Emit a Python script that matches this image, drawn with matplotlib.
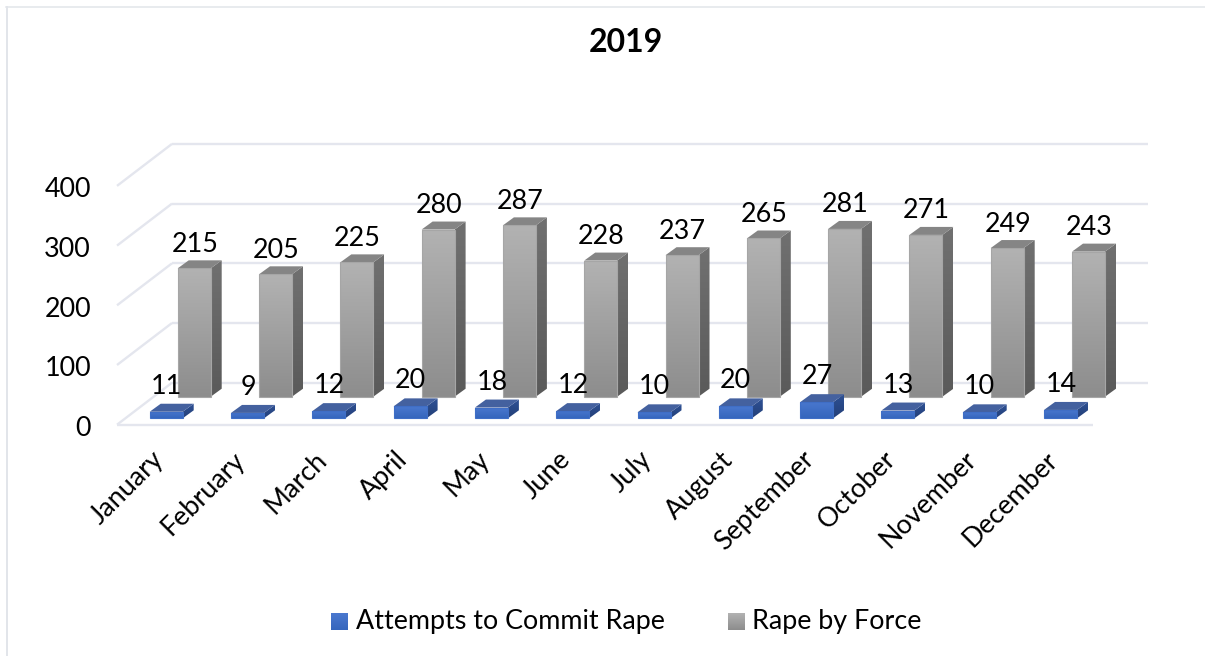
import numpy as np
import matplotlib
matplotlib.use("Agg")
import matplotlib.pyplot as plt
from matplotlib.patches import Polygon
from matplotlib.colors import LinearSegmentedColormap

months = ["January", "February", "March", "April", "May", "June", "July",
          "August", "September", "October", "November", "December"]
attempts = [11, 9, 12, 20, 18, 12, 10, 20, 27, 13, 10, 14]
force = [215, 205, 225, 280, 287, 228, 237, 265, 281, 271, 249, 243]
y_ticks = [0, 100, 200, 300, 400]
series_names = ["Attempts to Commit Rape", "Rape by Force"]
title = "2019"

W, H = 1205, 656
plt.rcParams["font.family"] = ["Lato", "DejaVu Sans"]
fig = plt.figure(figsize=(W / 100, H / 100), dpi=100, facecolor="white")
ax = fig.add_axes([0, 0, 1, 1])

# scale: one category = 81.3 px, one value unit = 0.597 px
PX = 81.3
PY = 0.597
x0_px, y0_px = 166.2, 424.7
ax.set_xlim(-x0_px / PX, (W - x0_px) / PX)
ax.set_ylim(-(H - y0_px) / PY, y0_px / PY)
ax.axis("off")

dx = lambda p: p / PX
dy = lambda p: p / PY

BAR_W = dx(33)
DEPTH_X, DEPTH_Y = dx(11), dy(8)
GRID = "#e4e6ee"

# walls / floor gridlines
left_x = dx(117 - x0_px)
right_front = dx(1093 - x0_px)
back_x0, back_x1 = dx(172 - x0_px), dx(1148 - x0_px)
back_dy = dy(42)
for t in y_ticks:
    ax.plot([left_x, back_x0], [t, t + back_dy], color=GRID, lw=1.7, zorder=1, solid_capstyle="butt")
    ax.plot([back_x0, back_x1], [t + back_dy, t + back_dy], color=GRID, lw=1.7, zorder=1, solid_capstyle="butt")
ax.plot([left_x, right_front], [0, 0], color=GRID, lw=1.7, zorder=1, solid_capstyle="butt")


def grad_fill(poly, c_top, c_bot, z):
    """Fill a polygon with a vertical gradient."""
    pts = np.array(poly)
    cmap = LinearSegmentedColormap.from_list("g", [c_top, c_bot])
    ext = (pts[:, 0].min(), pts[:, 0].max(), pts[:, 1].min(), pts[:, 1].max())
    im = ax.imshow(np.linspace(0, 1, 64).reshape(-1, 1), cmap=cmap, extent=ext,
                   aspect="auto", origin="upper", zorder=z, interpolation="bilinear")
    patch = Polygon(pts, closed=True, transform=ax.transData, fc="none", ec="none")
    ax.add_patch(patch)
    im.set_clip_path(patch)


def draw_series(values, x_off, base, front, side, top, edge, z):
    lefts = np.arange(len(values)) + x_off
    bars = ax.bar(lefts, values, width=BAR_W, bottom=base, align="edge",
                  color="none", edgecolor=edge, linewidth=0.8, zorder=z + 0.5)
    for b, v in zip(bars, values):
        l, r = b.get_x(), b.get_x() + b.get_width()
        t, u = base + v, base
        grad_fill([(l, t), (r, t), (r, u), (l, u)], front[0], front[1], z)
        grad_fill([(r, t), (r + DEPTH_X, t + DEPTH_Y), (r + DEPTH_X, u + DEPTH_Y), (r, u)],
                  side[0], side[1], z)
        ax.add_patch(Polygon([(l, t), (r, t), (r + DEPTH_X, t + DEPTH_Y), (l + DEPTH_X, t + DEPTH_Y)],
                             closed=True, fc=top, ec="none", zorder=z))


base_blue = dy(6.4)
base_gray = dy(28)
off_blue = dx(149.7 - x0_px)
off_gray = dx(177.7 - x0_px)
GRAY_F = ("#b2b2b2", "#8d8d8d")
GRAY_S = ("#707070", "#5a5a5a")
BLUE_F = ("#4a78cf", "#3566bd")
BLUE_S = ("#2f5296", "#233f78")

# gray row lies behind, blue row in front
draw_series(force, off_gray, base_gray, GRAY_F, GRAY_S, "#858585", "#a6a6a6", 2)
draw_series(attempts, off_blue, base_blue, BLUE_F, BLUE_S, "#44619f", "#3f6ec6", 4)

# data labels
FS = 19.4
for i, v in enumerate(force):
    ax.text(i + off_gray + BAR_W / 2 + dx(0.5), base_gray + v + dy(24), str(v), ha="center", va="center",
            fontsize=FS, color="black", zorder=6)
for i, v in enumerate(attempts):
    ax.text(i + off_blue + BAR_W / 2 + dx(0.5), base_blue + v + dy(25.5), str(v), ha="center", va="center",
            fontsize=FS, color="black", zorder=6)

# y tick labels
for t in y_ticks:
    ax.text(dx(91 - x0_px), t - dy(4), str(t), ha="right", va="center", fontsize=FS, color="black")

# category labels
for i, m in enumerate(months):
    ax.text(i - dx(15), -dy(22), m, rotation=45, rotation_mode="anchor", ha="right", va="top",
            fontsize=FS, color="black")

# title
ax.text(dx(626 - x0_px), dy(424.7 - 43), title, ha="center", va="center", fontsize=23,
        fontweight="bold", color="black")

# legend
leg_y = dy(424.7 - 621)
for sx, tx, name, cols in [(331, 356, series_names[0], BLUE_F), (728, 752, series_names[1], GRAY_F)]:
    l, r = dx(sx - x0_px), dx(sx + 17 - x0_px)
    b, t = leg_y - dy(8.5), leg_y + dy(8.5)
    grad_fill([(l, t), (r, t), (r, b), (l, b)], cols[0], cols[1], 5)
    ax.text(dx(tx - x0_px), leg_y, name, ha="left", va="center", fontsize=FS, color="black")

# outer chart border
fig.add_artist(plt.Line2D([7 / W, 7 / W], [0, 1 - 6.5 / H], color="#e2e5ea", lw=1.4))
fig.add_artist(plt.Line2D([6 / W, 1], [1 - 6.5 / H, 1 - 6.5 / H], color="#e2e5ea", lw=1.1))

ax.set_xlim(-x0_px / PX, (W - x0_px) / PX)
ax.set_ylim(-(H - y0_px) / PY, y0_px / PY)
fig.savefig("out.png", dpi=100, facecolor="white")
